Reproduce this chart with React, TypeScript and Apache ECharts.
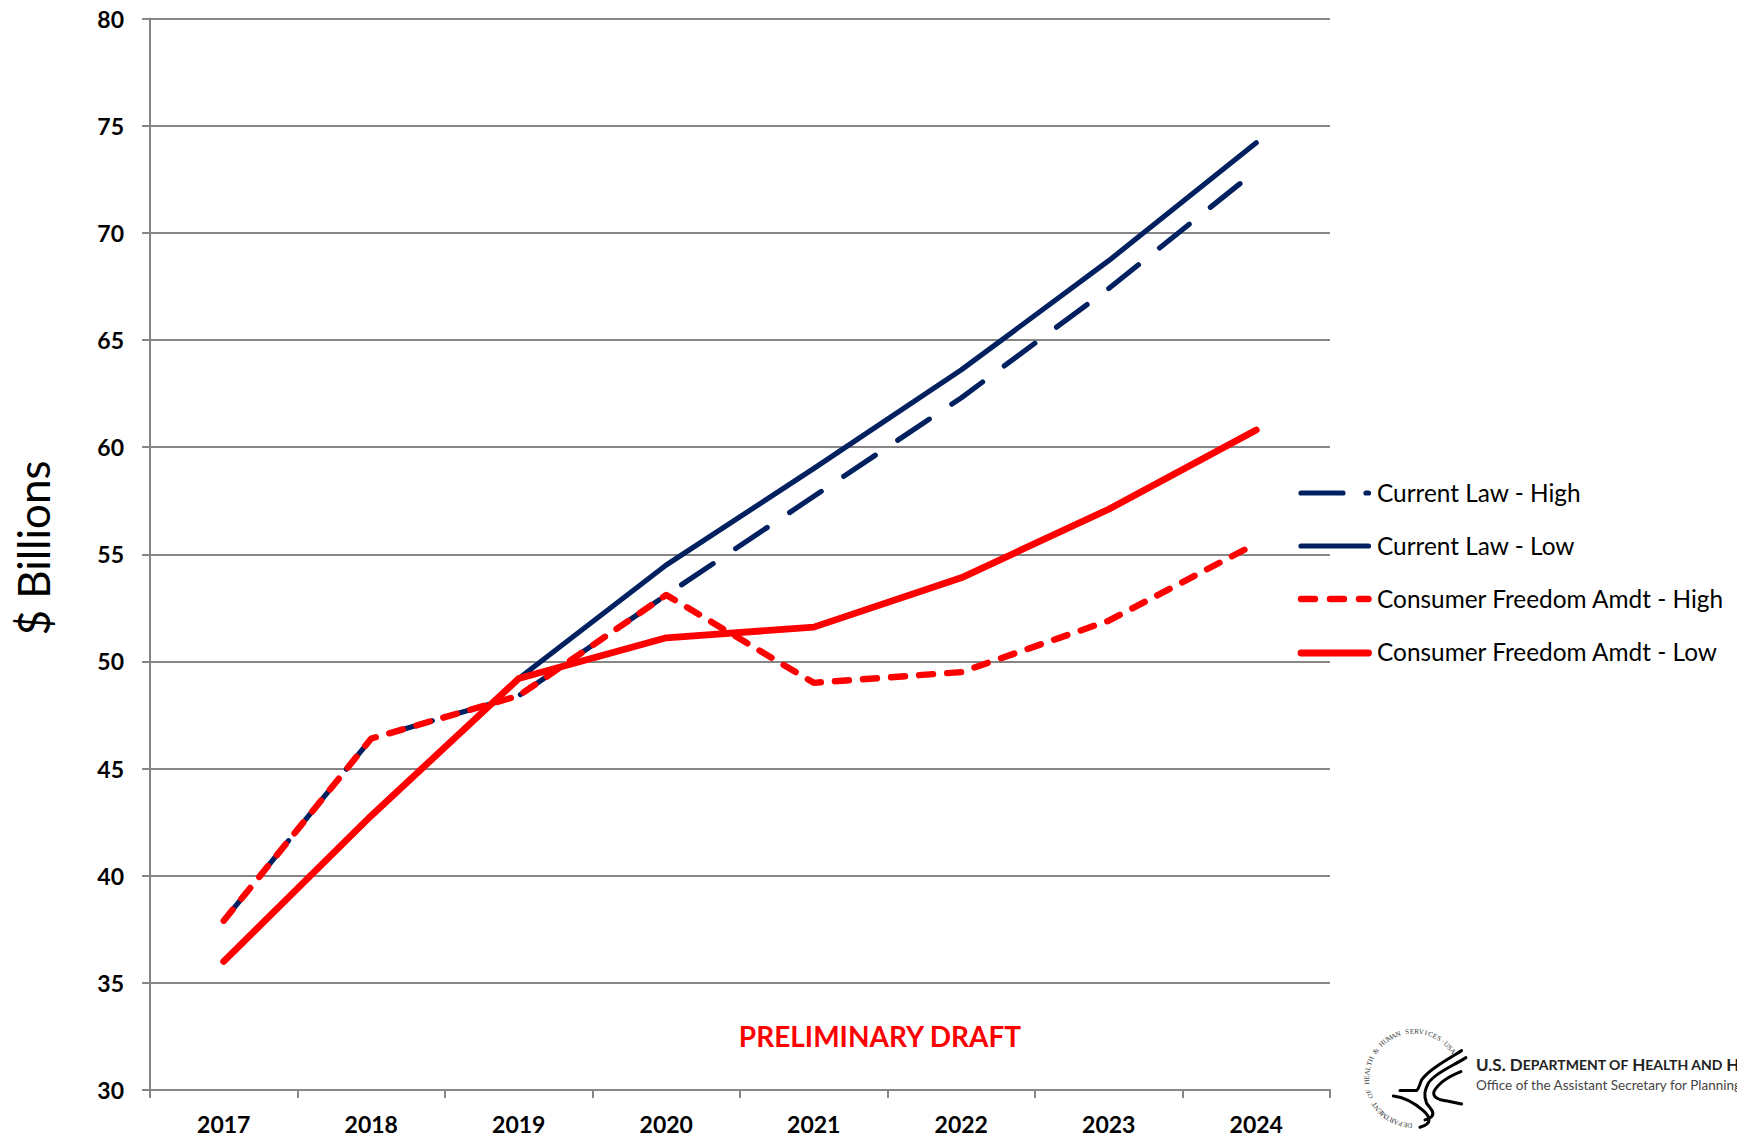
import React, { useEffect, useRef } from "react";
import * as echarts from "echarts";

const years = ["2017", "2018", "2019", "2020", "2021", "2022", "2023", "2024"];
const currentLawHigh = [37.9, 46.4, 48.4, 53.1, 57.7, 62.3, 67.4, 72.9];
const currentLawLow = [36, 42.8, 49.2, 54.5, 59, 63.6, 68.7, 74.2];
const cfaHigh = [37.9, 46.4, 48.4, 53.1, 49, 49.5, 51.9, 55.5];
const cfaLow = [36, 42.8, 49.2, 51.1, 51.6, 53.9, 57.1, 60.8];
const legendNames = ["Current Law - High", "Current Law - Low", "Consumer Freedom Amdt - High", "Consumer Freedom Amdt - Low"];
const NAVY = "#002060";
const RED = "#FF0000";
const GREY = "#868686";
const FONT = "Lato, Carlito, sans-serif";
const sealText = "DEPARTMENT OF HEALTH & HUMAN SERVICES\u00b7USA";

const navyDash = { color: NAVY, width: 5.2, type: [38, 27] as number[], cap: "round", join: "round" };
const navySolid = { color: NAVY, width: 5.2, cap: "round", join: "round" };
const redDash = { color: RED, width: 6.4, type: [14, 14.13] as number[], cap: "round", join: "round" };
const redSolid = { color: RED, width: 6.8, cap: "round", join: "round" };

const eagleD =
  "M305 92 C260 120 205 150 185 180 C178 195 178 205 170 212 L120 212 " +
  "M318 113 C275 140 225 160 205 190 C195 210 190 225 200 250 L215 270 C225 285 215 295 195 300 " +
  "M303 155 C265 170 235 190 222 215 C218 232 235 240 262 243 L305 252 " +
  "M100 228 C135 232 165 250 190 272 C210 290 220 310 180 322";

function App() {
  const ref = useRef<HTMLDivElement>(null);
  useEffect(() => {
    document.body.style.margin = "0";
    document.body.style.overflow = "hidden";
    echarts.graphic.registerShape("hhsEagle", echarts.graphic.extendPath(eagleD as any, {}) as any);
    const chart = echarts.init(ref.current!, null, { renderer: "svg" });
    const cx = 1414;
    const cy = 1078.5;
    const r = 47;
    const n = sealText.length;
    const start = 95;
    const sweep = 230;
    const sealChars = sealText.split("").map((ch, i) => {
      const deg = start + (sweep * i) / (n - 1);
      const rad = (deg * Math.PI) / 180;
      return {
        type: "text",
        x: cx + r * Math.cos(rad),
        y: cy + r * Math.sin(rad),
        rotation: (-(deg + 90) * Math.PI) / 180,
        style: {
          text: ch,
          fontFamily: "Liberation Serif",
          fontSize: 7,
          fill: "#333",
          align: "center",
          verticalAlign: "middle",
        },
        silent: true,
      };
    });
    const sample = (y: number, color: string, width: number, lineDash?: number[]) => ({
      type: "line",
      silent: true,
      shape: { x1: 1301, y1: y, x2: 1368.5, y2: y },
      style: { stroke: color, lineWidth: width, lineCap: "round", lineDash },
    });
    chart.setOption({
      animation: false,
      backgroundColor: "#fff",
      grid: { left: 150, top: 18.5, width: 1180, height: 1071.5, containLabel: false, outerBoundsMode: "none" },
      legend: {
        orient: "vertical",
        left: 1298,
        top: 479,
        padding: 0,
        itemWidth: 74,
        itemHeight: 26,
        itemGap: 28,
        selectedMode: false,
        icon: "none",
        textStyle: { fontFamily: FONT, fontSize: 24.4, color: "#000" },
        data: legendNames,
      },
      xAxis: {
        type: "category",
        data: years,
        boundaryGap: true,
        axisLine: { lineStyle: { color: GREY, width: 2 } },
        axisTick: { show: true, alignWithLabel: false, length: 8, lineStyle: { color: GREY, width: 2 } },
        axisLabel: { fontFamily: FONT, fontSize: 23, fontWeight: "bold", color: "#000", margin: 22 },
      },
      yAxis: {
        type: "value",
        min: 30,
        max: 80,
        interval: 5,
        axisLine: { show: true, lineStyle: { color: GREY, width: 2 } },
        axisTick: { show: true, length: 8, lineStyle: { color: GREY, width: 2 } },
        axisLabel: { fontFamily: FONT, fontSize: 23, fontWeight: "bold", color: "#000", margin: 26 },
        splitLine: { show: true, lineStyle: { color: GREY, width: 2 } },
      },
      series: [
        { name: legendNames[0], type: "line", data: currentLawHigh, symbol: "none", lineStyle: navyDash, itemStyle: { color: NAVY } },
        { name: legendNames[1], type: "line", data: currentLawLow, symbol: "none", lineStyle: navySolid, itemStyle: { color: NAVY } },
        { name: legendNames[2], type: "line", data: cfaHigh, symbol: "none", lineStyle: redDash, itemStyle: { color: RED } },
        { name: legendNames[3], type: "line", data: cfaLow, symbol: "none", lineStyle: redSolid, itemStyle: { color: RED } },
      ],
      graphic: [
        sample(493, NAVY, 5.2, [42, 23]),
        sample(546, NAVY, 5.2),
        sample(599, RED, 6.4, [14, 15]),
        sample(653, RED, 6.8),
        {
          type: "text",
          x: 33,
          y: 548,
          rotation: Math.PI / 2,
          style: {
            text: "$ Billions",
            fontFamily: FONT,
            fontSize: 44,
            fill: "#000",
            align: "center",
            verticalAlign: "middle",
          },
        },
        {
          type: "text",
          x: 880,
          y: 1036,
          style: {
            text: "PRELIMINARY DRAFT",
            fontFamily: FONT,
            fontSize: 28,
            fontWeight: "bold",
            fill: RED,
            align: "center",
            verticalAlign: "middle",
          },
        },
        ...sealChars,
        {
          type: "hhsEagle",
          x: 1360,
          y: 1020,
          scaleX: 1 / 3,
          scaleY: 1 / 3,
          style: { fill: "none", stroke: "#000", lineWidth: 9, lineCap: "round", lineJoin: "round" },
        },
        {
          type: "text",
          x: 1476,
          y: 1064,
          style: {
            text: "{a|U.S. D}{b|EPARTMENT OF }{a|H}{b|EALTH AND }{a|H}",
            verticalAlign: "middle",
            rich: {
              a: { fontFamily: FONT, fontWeight: "bold", fontSize: 17, fill: "#222" },
              b: { fontFamily: FONT, fontWeight: "bold", fontSize: 14, fill: "#222" },
            },
          },
        },
        {
          type: "text",
          x: 1476,
          y: 1085,
          style: {
            text: "Office of the Assistant Secretary for Planning",
            fontFamily: FONT,
            fontSize: 13.5,
            fill: "#444",
            verticalAlign: "middle",
          },
        },
      ],
    });
    return () => chart.dispose();
  }, []);
  return <div ref={ref} style={{ position: "fixed", left: 0, top: 0, width: 1737, height: 1139 }} />;
}

export default App;
